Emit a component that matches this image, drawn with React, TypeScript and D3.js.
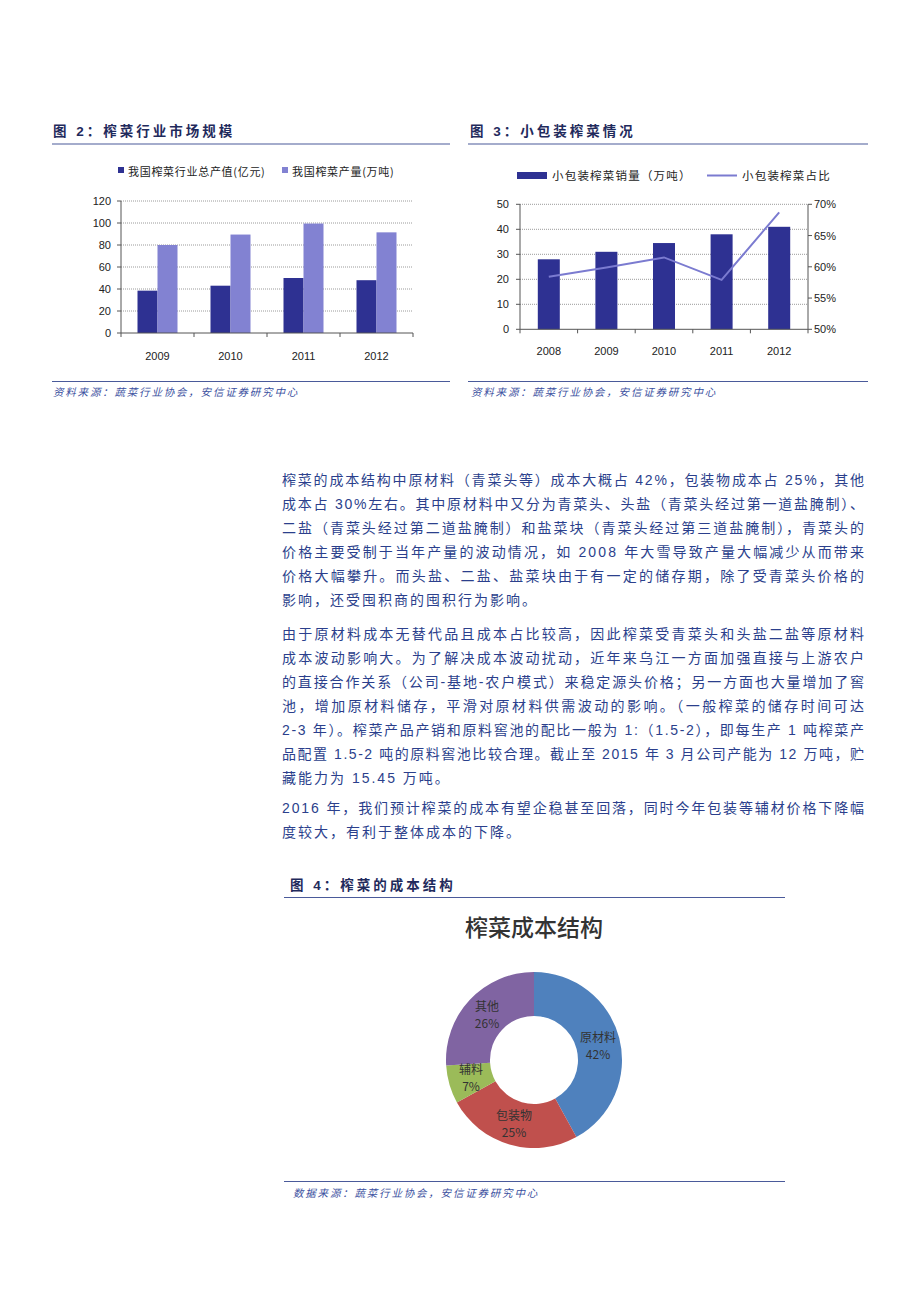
import React from "react";
import * as d3 from "d3";

// ---------- Data ----------
const years2 = ["2009", "2010", "2011", "2012"];
const outputValue = [38.5, 43, 50, 48]; // 我国榨菜行业总产值(亿元)
const outputVolume = [80, 89.5, 99.5, 91.5]; // 我国榨菜产量(万吨)
const ticks2 = [0, 20, 40, 60, 80, 100, 120];

const years3 = ["2008", "2009", "2010", "2011", "2012"];
const smallPackSales = [28, 31, 34.5, 38, 41]; // 小包装榨菜销量（万吨）
const smallPackShare = [0.584, 0.599, 0.615, 0.579, 0.687]; // 小包装榨菜占比
const ticks3L = [0, 10, 20, 30, 40, 50];
const ticks3R = [0.5, 0.55, 0.6, 0.65, 0.7];

const costLabels = ["原材料", "包装物", "辅料", "其他"];
const costValues = [42, 25, 7, 26];
const costColors = ["#4F81BD", "#C0504D", "#9BBB59", "#8064A2"];

const para1 = [
  "榨菜的成本结构中原材料（青菜头等）成本大概占 42%，包装物成本占 25%，其他",
  "成本占 30%左右。其中原材料中又分为青菜头、头盐（青菜头经过第一道盐腌制）、",
  "二盐（青菜头经过第二道盐腌制）和盐菜块（青菜头经过第三道盐腌制），青菜头的",
  "价格主要受制于当年产量的波动情况，如 2008 年大雪导致产量大幅减少从而带来",
  "价格大幅攀升。而头盐、二盐、盐菜块由于有一定的储存期，除了受青菜头价格的",
  "影响，还受囤积商的囤积行为影响。",
];
const para2 = [
  "由于原材料成本无替代品且成本占比较高，因此榨菜受青菜头和头盐二盐等原材料",
  "成本波动影响大。为了解决成本波动扰动，近年来乌江一方面加强直接与上游农户",
  "的直接合作关系（公司-基地-农户模式）来稳定源头价格；另一方面也大量增加了窖",
  "池，增加原材料储存，平滑对原材料供需波动的影响。（一般榨菜的储存时间可达",
  "2-3 年）。榨菜产品产销和原料窖池的配比一般为 1:（1.5-2），即每生产 1 吨榨菜产",
  "品配置 1.5-2 吨的原料窖池比较合理。截止至 2015 年 3 月公司产能为 12 万吨，贮",
  "藏能力为 15.45 万吨。",
];
const para3 = [
  "2016 年，我们预计榨菜的成本有望企稳甚至回落，同时今年包装等辅材价格下降幅",
  "度较大，有利于整体成本的下降。",
];

// ---------- Styles ----------
const FONT = "'Liberation Sans', Arial, 'Noto Sans CJK SC', sans-serif";
const CJK = "'Noto Sans CJK SC', 'Liberation Sans', sans-serif";
const NAVY = "#2E3192";
const LIGHT = "#8282D2";
const TITLE = "#1F2A5C";
const RULE = "#4A5A9A";
const BODY = "#2B3F8C";
const SRC = "#3A4FA0";

function Paragraph({ lines, y0 }: { lines: string[]; y0: number }) {
  return (
    <g>
      {lines.map((l, i) => {
        const full = i < lines.length - 1;
        return (
          <text
            key={i}
            x={282}
            y={y0 + i * 24}
            fontSize={14}
            fontFamily={FONT}
            fill={BODY}
            letterSpacing={2}
            {...(full ? { textLength: 584, lengthAdjust: "spacing" } : {})}
          >
            {l}
          </text>
        );
      })}
    </g>
  );
}

function Chart2() {
  const x = d3.scaleBand().domain(years2).range([121, 413]).padding(0);
  const y = d3.scaleLinear().domain([0, 120]).range([333, 201]);
  const bw = 20;
  return (
    <g>
      {/* legend */}
      <rect x={118} y={167} width={6} height={6} fill={NAVY} />
      <text x={128} y={175.5} fontSize={11} fontFamily={CJK} fill="#222" letterSpacing={0.7}>我国榨菜行业总产值(亿元)</text>
      <rect x={282} y={167} width={6} height={6} fill={LIGHT} />
      <text x={292} y={175.5} fontSize={11} fontFamily={CJK} fill="#222" letterSpacing={0.7}>我国榨菜产量(万吨)</text>
      {/* grid */}
      {ticks2.filter((t) => t > 0).map((t) => (
        <line key={t} x1={121} x2={413} y1={y(t)} y2={y(t)} stroke="#9a9a9a" strokeDasharray="1,1" />
      ))}
      {/* bars */}
      {years2.map((yr, i) => {
        const c = (x(yr) as number) + x.bandwidth() / 2;
        return (
          <g key={yr}>
            <rect x={c - bw} y={y(outputValue[i])} width={bw} height={y(0) - y(outputValue[i])} fill={NAVY} />
            <rect x={c} y={y(outputVolume[i])} width={bw} height={y(0) - y(outputVolume[i])} fill={LIGHT} />
            <text x={c} y={360} fontSize={11} fontFamily={FONT} textAnchor="middle" fill="#222">{yr}</text>
          </g>
        );
      })}
      {/* axes */}
      <line x1={121} x2={121} y1={201} y2={333} stroke="#555" />
      {ticks2.map((t) => (
        <g key={t}>
          <line x1={117} x2={121} y1={y(t)} y2={y(t)} stroke="#555" />
          <text x={111} y={y(t) + 4} fontSize={11} fontFamily={FONT} textAnchor="end" fill="#222">{t}</text>
        </g>
      ))}
      <line x1={121} x2={413} y1={333} y2={333} stroke="#555" />
      {years2.concat(["end"]).map((yr, i) => {
        const xx = 121 + i * x.bandwidth();
        return <line key={i} x1={xx} x2={xx} y1={333} y2={337} stroke="#555" />;
      })}
    </g>
  );
}

function Chart3() {
  const x = d3.scaleBand().domain(years3).range([520, 808]).padding(0);
  const yL = d3.scaleLinear().domain([0, 50]).range([329.3, 204.3]);
  const yR = d3.scaleLinear().domain([0.5, 0.7]).range([329.3, 204.3]);
  const bw = 22;
  const line = d3
    .line<number>()
    .x((_, i) => (x(years3[i]) as number) + x.bandwidth() / 2)
    .y((d) => yR(d));
  return (
    <g>
      {/* legend */}
      <rect x={517} y={172} width={30} height={7} fill={NAVY} />
      <text x={552} y={180} fontSize={11.5} fontFamily={CJK} fill="#222" letterSpacing={1.2}>小包装榨菜销量（万吨）</text>
      <line x1={707} x2={737} y1={175.5} y2={175.5} stroke="#7B7BD0" strokeWidth={2} />
      <text x={742} y={180} fontSize={11.5} fontFamily={CJK} fill="#222" letterSpacing={1.2}>小包装榨菜占比</text>
      {/* grid */}
      {ticks3L.filter((t) => t > 0).map((t) => (
        <line key={t} x1={520} x2={808} y1={yL(t)} y2={yL(t)} stroke="#9a9a9a" strokeDasharray="1,1" />
      ))}
      {years3.map((yr, i) => {
        const c = (x(yr) as number) + x.bandwidth() / 2;
        return (
          <g key={yr}>
            <rect x={c - bw / 2} y={yL(smallPackSales[i])} width={bw} height={yL(0) - yL(smallPackSales[i])} fill={NAVY} />
            <text x={c} y={355} fontSize={11} fontFamily={FONT} textAnchor="middle" fill="#222">{yr}</text>
          </g>
        );
      })}
      <path d={line(smallPackShare) || ""} fill="none" stroke="#7B7BD0" strokeWidth={2} />
      {/* axes */}
      <line x1={520} x2={520} y1={204.3} y2={329.3} stroke="#555" />
      <line x1={808} x2={808} y1={204.3} y2={329.3} stroke="#555" />
      {ticks3L.map((t) => (
        <g key={t}>
          <line x1={516} x2={520} y1={yL(t)} y2={yL(t)} stroke="#555" />
          <text x={509} y={yL(t) + 4} fontSize={11} fontFamily={FONT} textAnchor="end" fill="#222">{t}</text>
        </g>
      ))}
      {ticks3R.map((t) => (
        <g key={t}>
          <line x1={808} x2={812} y1={yR(t)} y2={yR(t)} stroke="#555" />
          <text x={814} y={yR(t) + 4} fontSize={11} fontFamily={FONT} fill="#222">{Math.round(t * 100) + "%"}</text>
        </g>
      ))}
      <line x1={520} x2={808} y1={329.3} y2={329.3} stroke="#555" />
      {years3.concat(["end"]).map((yr, i) => {
        const xx = 520 + i * x.bandwidth();
        return <line key={i} x1={xx} x2={xx} y1={329.3} y2={333.3} stroke="#555" />;
      })}
    </g>
  );
}

function Donut() {
  const cx = 534;
  const cy = 1060;
  const pie = d3.pie<number>().sort(null).value((d) => d);
  const arcs = pie(costValues);
  const arc = d3.arc<d3.PieArcDatum<number>>().innerRadius(44).outerRadius(88);
  const labelArc = d3.arc<d3.PieArcDatum<number>>().innerRadius(66).outerRadius(66);
  const labelPos: [number, number][] = [
    [598, 1038],
    [514, 1116],
    [471, 1070],
    [487, 1007],
  ];
  return (
    <g>
      <text x={534} y={936} fontSize={23} fontWeight={500} fontFamily={CJK} textAnchor="middle" fill="#333">榨菜成本结构</text>
      <g transform={`translate(${cx},${cy})`}>
        {arcs.map((a, i) => (
          <path key={i} d={arc(a) || ""} fill={costColors[i]} />
        ))}
      </g>
      {arcs.map((a, i) => {
        const c = labelArc.centroid(a);
        const lx = labelPos[i] ? labelPos[i][0] : cx + c[0];
        const ly = labelPos[i] ? labelPos[i][1] : cy + c[1];
        return (
          <g key={i}>
            <text x={lx} y={ly + 4} fontSize={12} fontFamily={CJK} textAnchor="middle" fill="#333">{costLabels[i]}</text>
            <text x={lx} y={ly + 21} fontSize={12} fontFamily={CJK} textAnchor="middle" fill="#333">{costValues[i] + "%"}</text>
          </g>
        );
      })}
    </g>
  );
}

export default function App() {
  return (
    <svg
      width={920}
      height={1302}
      style={{ position: "absolute", left: 0, top: 0, background: "#fff" }}
      xmlns="http://www.w3.org/2000/svg"
    >
      <rect x={0} y={0} width={920} height={1302} fill="#fff" />
      {/* Figure 2 */}
      <text x={53} y={136} fontSize={13.5} fontWeight="bold" fontFamily={FONT} fill={TITLE} letterSpacing={3}>图 2：榨菜行业市场规模</text>
      <line x1={52} x2={450} y1={144} y2={144} stroke={RULE} strokeWidth={1.2} />
      <Chart2 />
      <line x1={52} x2={450} y1={381.5} y2={381.5} stroke={RULE} strokeWidth={1.2} />
      <text x={53} y={396} fontSize={10.5} fontStyle="italic" fontFamily={FONT} fill={SRC} letterSpacing={1.8}>资料来源：蔬菜行业协会，安信证券研究中心</text>

      {/* Figure 3 */}
      <text x={470} y={136} fontSize={13.5} fontWeight="bold" fontFamily={FONT} fill={TITLE} letterSpacing={3}>图 3：小包装榨菜情况</text>
      <line x1={468} x2={868} y1={144} y2={144} stroke={RULE} strokeWidth={1.2} />
      <Chart3 />
      <line x1={468} x2={868} y1={381.5} y2={381.5} stroke={RULE} strokeWidth={1.2} />
      <text x={471} y={396} fontSize={10.5} fontStyle="italic" fontFamily={FONT} fill={SRC} letterSpacing={1.8}>资料来源：蔬菜行业协会，安信证券研究中心</text>

      {/* Body text */}
      <Paragraph lines={para1} y0={485} />
      <Paragraph lines={para2} y0={639} />
      <Paragraph lines={para3} y0={813} />

      {/* Figure 4 */}
      <text x={290} y={890} fontSize={13.5} fontWeight="bold" fontFamily={FONT} fill={TITLE} letterSpacing={3}>图 4：榨菜的成本结构</text>
      <line x1={284} x2={785} y1={897.5} y2={897.5} stroke={RULE} strokeWidth={1.2} />
      <Donut />
      <line x1={284} x2={785} y1={1181.5} y2={1181.5} stroke={RULE} strokeWidth={1.2} />
      <text x={293} y={1197} fontSize={10.5} fontStyle="italic" fontFamily={FONT} fill={SRC} letterSpacing={1.8}>数据来源：蔬菜行业协会，安信证券研究中心</text>
    </svg>
  );
}
